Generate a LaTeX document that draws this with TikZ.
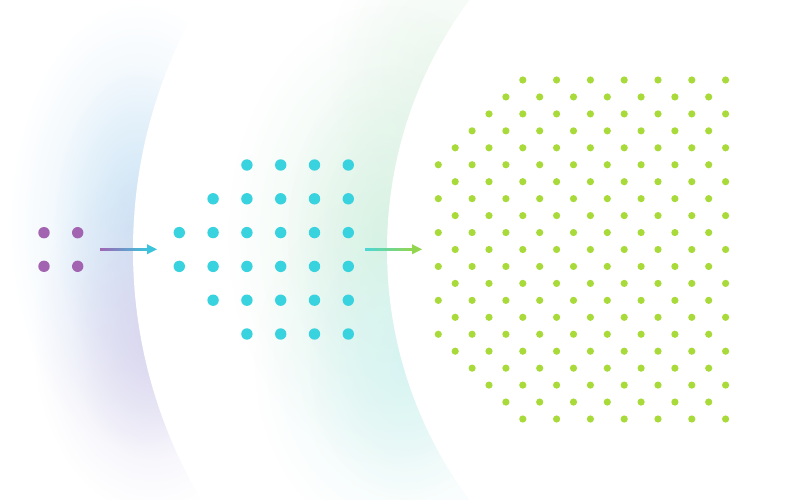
\documentclass[tikz,border=0pt]{standalone}
\usepackage{xcolor}
\usepackage{tikz}
\usetikzlibrary{fadings}
\definecolor{DotPurple}{HTML}{A263B1}
\definecolor{DotTeal}{HTML}{38D3DE}
\definecolor{DotGreen}{HTML}{A8DA3A}
\definecolor{ArrPurple}{HTML}{A066B4}
\definecolor{ArrTeal}{HTML}{3CC4DC}
\definecolor{ArrTealB}{HTML}{4CD6D8}
\definecolor{ArrGreen}{HTML}{92D650}
\definecolor{GlowBlue}{HTML}{C4E0F4}
\definecolor{GlowPurple}{HTML}{D8D2ED}
\definecolor{GlowGreen}{HTML}{D2F0DE}
\definecolor{GlowCyan}{HTML}{D4F4F2}
\definecolor{GlowPale}{HTML}{E3F4E6}
\tikzfading[name=glowfade, inner color=transparent!0, outer color=transparent!100]
\tikzset{glowblob/.style={fill=#1,path fading=glowfade,fill opacity=.6}}

\begin{document}
\begin{tikzpicture}[x=0.025cm,y=-0.025cm]
\path[use as bounding box] (0,0) rectangle (792,500);
\clip (0,0) rectangle (792,500);
% left glow
\fill[glowblob=GlowBlue] (138,225) ellipse (130 and 225);
\fill[glowblob=GlowBlue] (138,225) ellipse (85 and 160);
\fill[glowblob=GlowPurple] (152,340) ellipse (120 and 175);
\fill[glowblob=GlowPurple] (152,340) ellipse (80 and 120);
\fill[white] (623,250) circle (490);
% middle glow
\begin{scope}
\clip (623,250) circle (490);
\fill[glowblob=GlowPale] (440,70) ellipse (110 and 150);
\fill[glowblob=GlowGreen] (388,235) ellipse (160 and 230);
\fill[glowblob=GlowGreen] (388,235) ellipse (100 and 170);
\fill[glowblob=GlowCyan] (405,365) ellipse (150 and 180);
\fill[glowblob=GlowCyan] (405,365) ellipse (95 and 130);
\end{scope}
\fill[white] (807,250) circle (420);
% dots
\foreach \i in {0,1}
  \foreach \j in {0,1}
    \fill[DotPurple] (44+33.7*\i,232.7+33.6*\j) circle (5.7);
\foreach \j in {0,...,5}
  \foreach \i in {0,...,5} {
    \pgfmathtruncatemacro\keep{and(\i>=2-\j,\i>=\j-3)}
    \ifnum\keep=1 \fill[DotTeal] (179.3+33.8*\i,165+33.8*\j) circle (5.7); \fi
  }
\foreach \r in {0,...,20}
  \foreach \c in {0,...,17} {
    \pgfmathtruncatemacro\keep{and(mod(\r+\c,2)==1,and(\c>=5-\r,\c>=\r-15))}
    \ifnum\keep=1 \fill[DotGreen] (438.3+16.9*\c,80+16.95*\r) circle (3.6); \fi
  }
% arrows
\coordinate (arrAfrom) at (100,249.3);
\coordinate (arrAhead) at (147,249.3);
\coordinate (arrAto) at (157,249.3);
\coordinate (arrBfrom) at (365,249.3);
\coordinate (arrBhead) at (412,249.3);
\coordinate (arrBto) at (422,249.3);
\shade[left color=ArrPurple,right color=ArrTeal] ([yshift=-0.75pt]arrAfrom) rectangle ([yshift=0.75pt]arrAhead);
\fill[ArrTeal] ([yshift=3.6pt]arrAhead) -- (arrAto) -- ([yshift=-3.6pt]arrAhead) -- cycle;
\shade[left color=ArrTealB,right color=ArrGreen] ([yshift=-0.75pt]arrBfrom) rectangle ([yshift=0.75pt]arrBhead);
\fill[ArrGreen] ([yshift=3.6pt]arrBhead) -- (arrBto) -- ([yshift=-3.6pt]arrBhead) -- cycle;
\end{tikzpicture}
\end{document}
